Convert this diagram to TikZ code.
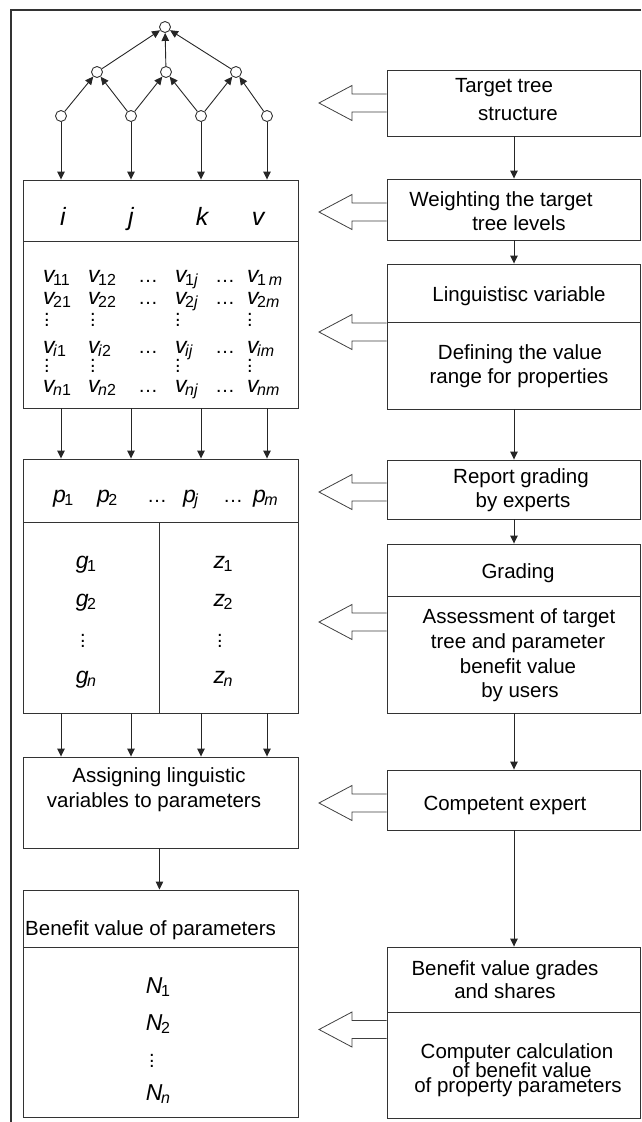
\documentclass[tikz,border=0pt]{standalone}
\usepackage{fontspec}
\setmainfont{Liberation Sans}
\usetikzlibrary{arrows.meta,fit,calc}
\newcommand{\sbs}[1]{\kern-1.5pt\raisebox{-3pt}{\fontsize{16}{16}\selectfont\upshape #1}}
\newcommand{\vd}{\vbox{\baselineskip=5.5pt\lineskiplimit=0pt\hbox{.}\hbox{.}\hbox{.}}}
\tikzset{
 lc/.style={draw=black!80, line width=0.9pt},
 box/.style={lc, inner sep=0pt},
 circ/.style={circle, lc, fill=white, minimum size=11pt, inner sep=0pt},
 arr/.style={draw=black!85, line width=0.9pt, -{Triangle[length=8pt,width=7.5pt]}},
 blk/.style={draw=black!75, line width=0.8pt, fill=white},
 lbl/.style={font=\fontsize{20.5}{24}\selectfont, inner sep=0pt, anchor=base},
 mth/.style={font=\fontsize{23}{26}\selectfont\itshape, inner sep=0pt, anchor=base},
 hdr/.style={font=\fontsize{25}{28}\selectfont\itshape, inner sep=0pt, anchor=base},
 dotn/.style={font=\fontsize{20}{20}\selectfont, inner sep=0pt},
}
\newcommand{\blockarrow}[2]{%
 \draw[blk] (#1.west |- 0,#2-9) -- (352,#2-9) -- (352,#2-17.5) -- (319,#2) -- (352,#2+17.5) -- (352,#2+9) -- (#1.west |- 0,#2+9);}
\begin{document}
\begin{tikzpicture}[x=1pt,y=-1pt]
\useasboundingbox (0,0) rectangle (641,1122);
% outer frame (cut off at right and bottom)
\draw[line width=1.4pt, black!80] (641,10) -- (11,10) -- (11,1122);

% ---------- tree ----------
\node[circ] (t)  at (165,27) {};
\node[circ] (m1) at (97,72) {};
\node[circ] (m2) at (166,72) {};
\node[circ] (m3) at (236,72) {};
\node[circ] (b1) at (61,116) {};
\node[circ] (b2) at (131,116) {};
\node[circ] (b3) at (201,116) {};
\node[circ] (b4) at (267,116) {};
\draw[arr] (b1) -- (m1);
\draw[arr] (b2) -- (m1);
\draw[arr] (b2) -- (m2);
\draw[arr] (b3) -- (m2);
\draw[arr] (b3) -- (m3);
\draw[arr] (b4) -- (m3);
\draw[arr] (m1) -- (t);
\draw[arr] (m2) -- (t);
\draw[arr] (m3) -- (t);

% ---------- left boxes ----------
\node[box, fit={(23,180) (298,241)}] (M1a) {};
\node[box, fit={(23,241) (298,408)}] (M1b) {};
\node[box, fit={(23,459) (298,522)}] (P1a) {};
\node[box, fit={(23,522) (159,713)}] (P1l) {};
\node[box, fit={(159,522) (298,713)}] (P1r) {};
\node[box, fit={(23,757) (298,848)}] (A1) {};
\node[box, fit={(23,890) (298,947)}] (B1a) {};
\node[box, fit={(23,947) (298,1117)}] (B1b) {};

\foreach \b in {b1,b2,b3,b4}{
 \draw[arr] (\b) -- (\b |- M1a.north);
 \draw[arr] (\b |- M1b.south) -- (\b |- P1a.north);
 \draw[arr] (\b |- P1l.south) -- (\b |- A1.north);
}
\draw[arr] (A1.south -| P1l.east) -- (B1a.north -| P1l.east);

% matrix header
\node[hdr] (hi) at (63,225) {i};
\node[hdr] (hj) at (131,225) {j};
\node[hdr] (hk) at (202,225) {k};
\node[hdr] (hv) at (258,225) {v};

% matrix rows
\node[mth, anchor=base west] (r1) at (43,282) {\makebox[45pt][l]{v\sbs{11}}\makebox[50pt][l]{v\sbs{12}}\makebox[37pt][l]{\upshape\fontsize{20}{20}\selectfont …}\makebox[40pt][l]{v\sbs{1\textit{j}}}\makebox[32pt][l]{\upshape\fontsize{20}{20}\selectfont …}v\sbs{1\,\textit{m}}};
\node[mth, anchor=base west] (r2) at (43,304) {\makebox[45pt][l]{v\sbs{21}}\makebox[50pt][l]{v\sbs{22}}\makebox[37pt][l]{\upshape\fontsize{20}{20}\selectfont …}\makebox[40pt][l]{v\sbs{2\textit{j}}}\makebox[32pt][l]{\upshape\fontsize{20}{20}\selectfont …}v\sbs{2\textit{m}}};
\node[mth, anchor=base west] (r3) at (43,353) {\makebox[45pt][l]{v\sbs{\textit{i}1}}\makebox[50pt][l]{v\sbs{\textit{i}2}}\makebox[37pt][l]{\upshape\fontsize{20}{20}\selectfont …}\makebox[40pt][l]{v\sbs{\textit{ij}}}\makebox[32pt][l]{\upshape\fontsize{20}{20}\selectfont …}v\sbs{\textit{im}}};
\node[mth, anchor=base west] (r4) at (43,392) {\makebox[45pt][l]{v\sbs{\textit{n}1}}\makebox[50pt][l]{v\sbs{\textit{n}2}}\makebox[37pt][l]{\upshape\fontsize{20}{20}\selectfont …}\makebox[40pt][l]{v\sbs{\textit{nj}}}\makebox[32pt][l]{\upshape\fontsize{20}{20}\selectfont …}v\sbs{\textit{nm}}};
\foreach \x [count=\i] in {47,93,178,250}{
 \node[dotn] (da\i) at (\x,320) {\vd};
 \node[dotn] (db\i) at (\x,366) {\vd};
}

% p row
\node[mth, anchor=base west] (prow) at (53,502) {\makebox[44pt][l]{p\sbs{1}}\makebox[50pt][l]{p\sbs{2}}\makebox[36pt][l]{\upshape\fontsize{20}{20}\selectfont …}\makebox[40pt][l]{p\sbs{\textit{j}}}\makebox[30pt][l]{\upshape\fontsize{20}{20}\selectfont …}p\sbs{\textit{m}}};
\node[mth] (g1) at (86,568) {g\sbs{1}};
\node[mth] (g2) at (86,606) {g\sbs{2}};
\node[dotn] (gd) at (83,641) {\vd};
\node[mth] (gn) at (86,683) {g\sbs{\textit{n}}};
\node[mth] (z1) at (223,568) {z\sbs{1}};
\node[mth] (z2) at (223,606) {z\sbs{2}};
\node[dotn] (zd) at (220,641) {\vd};
\node[mth] (zn) at (223,683) {z\sbs{\textit{n}}};

% assigning
\node[lbl] (a1t) at (159,782) {Assigning linguistic};
\node[lbl] (a2t) at (154,807) {variables to parameters};
% benefit
\node[lbl, anchor=base west] (bt) at (25,935) {Benefit value of parameters};
\node[mth] (n1) at (158,993) {N\sbs{1}};
\node[mth] (n2) at (158,1030) {N\sbs{2}};
\node[dotn] (nd) at (152,1061) {\vd};
\node[mth] (nn) at (158,1100) {N\sbs{\textit{n}}};

% ---------- right boxes ----------
\node[box, fit={(387,70) (640,136)}] (R1) {};
\node[box, fit={(387,179) (640,240)}] (R2) {};
\node[box, fit={(387,264) (640,322)}] (R3a) {};
\node[box, fit={(387,322) (640,409)}] (R3b) {};
\node[box, fit={(387,460) (640,519)}] (R4) {};
\node[box, fit={(387,544) (640,596)}] (R5a) {};
\node[box, fit={(387,596) (640,713)}] (R5b) {};
\node[box, fit={(387,770) (640,830)}] (R6) {};
\node[box, fit={(387,947) (640,1012)}] (R7a) {};
\node[box, fit={(387,1012) (640,1118)}] (R7b) {};

\draw[arr] (R1.south -| 514,0) -- (R2.north -| 514,0);
\draw[arr] (R2.south -| 514,0) -- (R3a.north -| 514,0);
\draw[arr] (R3b.south -| 514,0) -- (R4.north -| 514,0);
\draw[arr] (R4.south -| 514,0) -- (R5a.north -| 514,0);
\draw[arr] (R5b.south -| 514,0) -- (R6.north -| 514,0);
\draw[arr] (R6.south -| 514,0) -- (R7a.north -| 514,0);

\blockarrow{R1}{103}
\blockarrow{R2}{212}
\blockarrow{R3b}{332}
\blockarrow{R4}{492}
\blockarrow{R5b}{622}
\blockarrow{R6}{803}
\blockarrow{R7b}{1029.5}

% right texts
\node[lbl] (x1) at (504,92) {Target tree};
\node[lbl] (x2) at (518,120) {structure};
\node[lbl] (x3) at (501,206) {Weighting the target};
\node[lbl] (x4) at (519,230) {tree levels};
\node[lbl] (x5) at (519,301) {Linguistisc variable};
\node[lbl] (x6) at (520,359) {Defining the value};
\node[lbl] (x7) at (519,383) {range for properties};
\node[lbl] (x8) at (521,483) {Report grading};
\node[lbl] (x9) at (523,507) {by experts};
\node[lbl] (x10) at (518,578) {Grading};
\node[lbl] (x11) at (519,623) {Assessment of target};
\node[lbl] (x12) at (518,648) {tree and parameter};
\node[lbl] (x13) at (518,673) {benefit value};
\node[lbl] (x14) at (520,697) {by users};
\node[lbl] (x15) at (505,810) {Competent expert};
\node[lbl] (x16) at (505,975) {Benefit value grades};
\node[lbl] (x17) at (505,998) {and shares};
\node[lbl] (x18) at (517,1058) {Computer calculation};
\node[lbl] (x19) at (522,1077) {of benefit value};
\node[lbl] (x20) at (518,1092) {of property parameters};
\end{tikzpicture}
\end{document}
